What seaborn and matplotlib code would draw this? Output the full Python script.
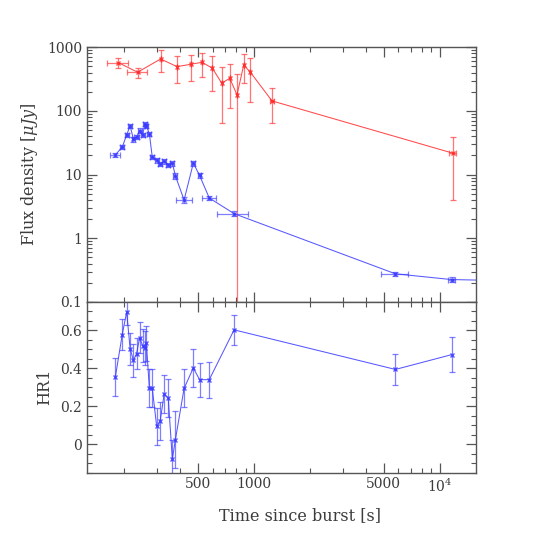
import numpy as np
import pandas as pd
import seaborn as sns
import matplotlib.pyplot as plt
from matplotlib.ticker import FixedLocator, LogLocator, MultipleLocator, NullFormatter, FixedFormatter

# red: optical flux density (uJy)
red_time = [186, 236, 314, 385, 455, 525, 597, 670, 740, 810, 880, 956, 1250, 11750]
red_time_err = [24, 28, 0, 0, 0, 0, 0, 0, 0, 0, 0, 0, 25, 480]
red_flux = [574, 406, 656, 497, 541, 582, 469, 273, 327, 179, 528, 406, 144, 21.8]
red_flux_lo = [105, 79, 250, 224, 245, 236, 262, 209, 216, 179, 255, 266, 80, 17.8]
red_flux_hi = [98, 73, 251, 233, 216, 241, 261, 213, 220, 198, 257, 266, 84, 17.0]

# blue: X-ray flux density (uJy)
blue_time = [179, 195, 206, 215, 224, 233, 242, 251, 259, 263, 273, 283, 299, 312,
             328, 345, 363, 377, 420, 471, 509, 574, 781, 5780, 11600, 25000]
blue_time_err = [11, 5, 5, 5, 5, 6, 6, 6, 6, 6, 7, 7, 7, 8,
                 8, 8, 9, 9, 42, 12, 12, 50, 150, 940, 500, 0]
blue_flux = [20.5, 27.1, 42.2, 58.4, 36.1, 38.8, 49.3, 42.2, 62.8, 58.4, 43.8, 18.9, 16.7, 14.8,
             16.1, 14.3, 15.2, 9.6, 4.0, 15.2, 9.7, 4.3, 2.44, 0.277, 0.225, 0.215]
blue_flux_err = [1.5, 2.0, 3.5, 5.0, 3.0, 3.0, 4.0, 3.5, 5.0, 5.0, 3.5, 1.5, 1.3, 1.2,
                 1.3, 1.2, 1.3, 1.0, 0.4, 1.3, 0.8, 0.35, 0.2, 0.02, 0.02, 0.0]

# hardness ratio
hr_time = blue_time[:25]
hr_value = [0.354, 0.578, 0.698, 0.503, 0.442, 0.478, 0.561, 0.520, 0.508, 0.531, 0.294, 0.294,
            0.093, 0.120, 0.265, 0.243, -0.079, 0.023, 0.294, 0.402, 0.340, 0.340, 0.603, 0.394, 0.472]
hr_err = [0.10, 0.084, 0.07, 0.085, 0.088, 0.08, 0.081, 0.088, 0.09, 0.09, 0.10, 0.10,
          0.10, 0.10, 0.10, 0.10, 0.10, 0.15, 0.10, 0.10, 0.09, 0.095, 0.08, 0.08, 0.093]

RED = "#ff2a2a"
BLUE = "#3a3aff"
AXC = "#555555"
TXT = "#3c3c3c"

sns.set_style("ticks")
plt.rcParams["font.family"] = ["DejaVu Serif"]
plt.rcParams["mathtext.fontset"] = "dejavuserif"
plt.rcParams.update({
    "axes.edgecolor": AXC, "xtick.color": AXC, "ytick.color": AXC,
    "axes.labelcolor": TXT, "xtick.labelcolor": TXT, "ytick.labelcolor": TXT,
    "xtick.direction": "in", "ytick.direction": "in",
    "xtick.top": True, "ytick.right": True,
    "xtick.minor.visible": True, "ytick.minor.visible": True,
})

fig = plt.figure(figsize=(5.58, 5.58), dpi=100)
ax1 = fig.add_axes([0.156, 0.4588, 0.697, 0.4564])
ax2 = fig.add_axes([0.156, 0.1532, 0.697, 0.3056], sharex=ax1)

red_df = pd.DataFrame({"t": red_time, "f": red_flux})
blue_df = pd.DataFrame({"t": blue_time, "f": blue_flux})
hr_df = pd.DataFrame({"t": hr_time, "hr": hr_value})

ax1.set_xscale("log")
ax1.set_yscale("log")

ebkw = dict(fmt="none", elinewidth=0.9, capsize=2.2, capthick=0.9, alpha=0.65)
ax1.errorbar(red_time, red_flux, yerr=[red_flux_lo, red_flux_hi], xerr=red_time_err,
             ecolor=RED, **ebkw)
ax1.errorbar(blue_time, blue_flux, yerr=blue_flux_err, xerr=blue_time_err,
             ecolor=BLUE, **ebkw)
lkw = dict(lw=0.75, alpha=0.85, estimator=None, sort=False, marker="x",
           markersize=3.5, markeredgewidth=1.0)
sns.lineplot(data=red_df, x="t", y="f", ax=ax1, color=RED, markeredgecolor=RED, **lkw)
sns.lineplot(data=blue_df, x="t", y="f", ax=ax1, color=BLUE, markeredgecolor=BLUE, **lkw)

ax2.errorbar(hr_time, hr_value, yerr=hr_err, ecolor=BLUE, **ebkw)
sns.lineplot(data=hr_df, x="t", y="hr", ax=ax2, color=BLUE, markeredgecolor=BLUE, **lkw)

ax1.set_xlim(126, 15700)
ax1.set_ylim(0.1, 1000)
ax2.set_ylim(-0.15, 0.75)

for ax in (ax1, ax2):
    ax.xaxis.set_major_locator(FixedLocator([500, 1000, 5000, 10000]))
    ax.xaxis.set_minor_locator(LogLocator(base=10, subs=np.arange(1, 10)))
    ax.xaxis.set_minor_formatter(NullFormatter())
    ax.tick_params(which="major", length=7, width=0.9, labelsize=10)
    ax.tick_params(which="minor", length=3.5, width=0.8)
    for s in ax.spines.values():
        s.set_linewidth(1.0)
    ax.set_xlabel("")
    ax.set_ylabel("")

ax1.tick_params(axis="x", labelbottom=False)
ax1.yaxis.set_major_locator(FixedLocator([0.1, 1, 10, 100, 1000]))
ax1.yaxis.set_major_formatter(FixedFormatter(["0.1", "1", "10", "100", "1000"]))
ax1.yaxis.set_minor_locator(LogLocator(base=10, subs=np.arange(2, 10)))
ax1.yaxis.set_minor_formatter(NullFormatter())

ax2.xaxis.set_major_formatter(FixedFormatter(["500", "1000", "5000", r"10$^4$"]))
ax2.yaxis.set_major_locator(FixedLocator([0, 0.2, 0.4, 0.6]))
ax2.yaxis.set_major_formatter(FixedFormatter(["0", "0.2", "0.4", "0.6"]))
ax2.yaxis.set_minor_locator(MultipleLocator(0.05))

ax1.set_ylabel(r"Flux density [$\mu Jy$]", fontsize=11.5, labelpad=5)
ax2.set_ylabel("HR1", fontsize=11.5, labelpad=5)
ax2.set_xlabel("Time since burst [s]", fontsize=11.5, labelpad=9)
ax2.xaxis.set_label_coords(0.548, -0.2)

fig.savefig("out.png", dpi=100)
plt.close(fig)
